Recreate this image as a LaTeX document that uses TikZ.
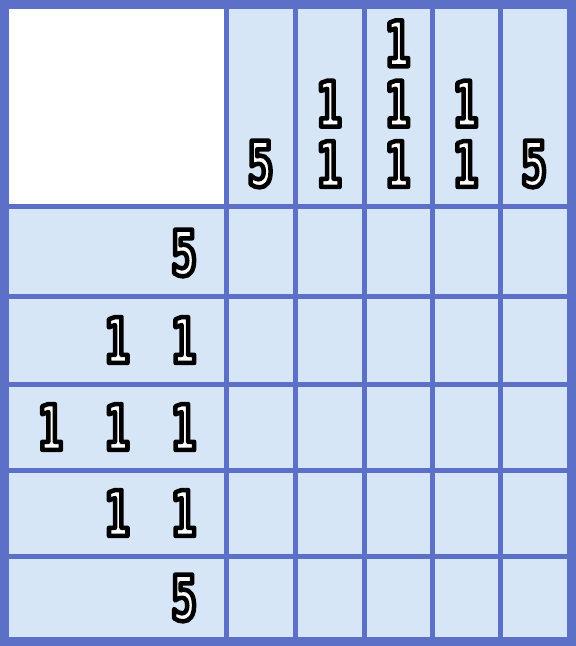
\documentclass[tikz,border=0pt]{standalone}
\usepackage{fontspec}
\usetikzlibrary{positioning}
\newfontfamily\cluefont{DejaVu Sans Condensed Bold}[FakeStretch=0.64]
\definecolor{gridColor}{RGB}{91,112,198}
\definecolor{cellColor}{RGB}{214,230,247}
% white digit with a black outline (text render mode 2)
\newcommand{\cluenum}[1]{\special{pdf:code q 2 Tr 4.5 w 1 j 0 G 1 g}#1\special{pdf:code Q}}

\begin{document}
\begin{tikzpicture}[x=1pt,y=-1pt]
    \tikzstyle{clue} = [inner sep=0pt,font=\cluefont\fontsize{63}{63}\selectfont]
    \tikzstyle{gridline} = [draw=gridColor,line width=5pt]
    \tikzstyle{border} = [draw=gridColor,line width=9pt]

    \useasboundingbox (0,0) rectangle (576,646);
    \fill[cellColor] (4,4) rectangle (572,642);
    \fill[white] (4,4) rectangle (226,206);

    % grid
    \draw[gridline] (226,4) -- (226,642);
    \draw[gridline] (295,4) -- (295,642);
    \draw[gridline] (364,4) -- (364,642);
    \draw[gridline] (432,4) -- (432,642);
    \draw[gridline] (500,4) -- (500,642);
    \draw[gridline] (4,206) -- (572,206);
    \draw[gridline] (4,296) -- (572,296);
    \draw[gridline] (4,384) -- (572,384);
    \draw[gridline] (4,470) -- (572,470);
    \draw[gridline] (4,556) -- (572,556);
    \draw[border] (4.5,4.5) rectangle (571,641.5);

    % column clues
    \node[clue] (c1a) at (260.5,164) {\cluenum{5}};
    \node[clue] (c2a) at (329.5,164) {\cluenum{1}};
    \node[clue, above=14pt of c2a] (c2b) {\cluenum{1}};
    \node[clue] (c3a) at (398,164) {\cluenum{1}};
    \node[clue, above=14pt of c3a] (c3b) {\cluenum{1}};
    \node[clue, above=14pt of c3b] (c3c) {\cluenum{1}};
    \node[clue] (c4a) at (466,164) {\cluenum{1}};
    \node[clue, above=14pt of c4a] (c4b) {\cluenum{1}};
    \node[clue] (c5a) at (534,164) {\cluenum{5}};

    % row clues
    \node[clue] (r1a) at (184,253) {\cluenum{5}};
    \node[clue] (r2a) at (184,340) {\cluenum{1}};
    \node[clue, left=41pt of r2a] (r2b) {\cluenum{1}};
    \node[clue] (r3a) at (184,427) {\cluenum{1}};
    \node[clue, left=41pt of r3a] (r3b) {\cluenum{1}};
    \node[clue, left=41pt of r3b] (r3c) {\cluenum{1}};
    \node[clue] (r4a) at (184,513) {\cluenum{1}};
    \node[clue, left=41pt of r4a] (r4b) {\cluenum{1}};
    \node[clue] (r5a) at (184,598) {\cluenum{5}};

\end{tikzpicture}
\end{document}
